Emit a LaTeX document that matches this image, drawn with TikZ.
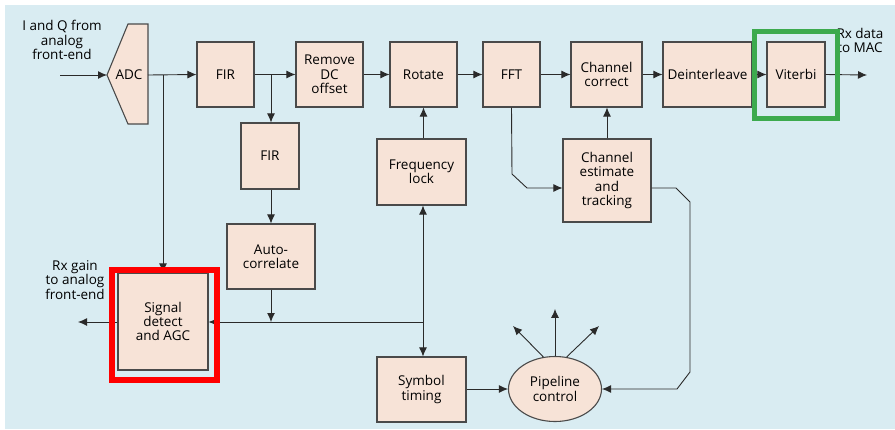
\documentclass[tikz,border=0pt]{standalone}
\usepackage{fontspec}
\setmainfont{Open Sans}
\usetikzlibrary{shapes.geometric,arrows.meta,calc}
\definecolor{bgblue}{HTML}{D9ECF2}
\definecolor{boxfill}{HTML}{F7E3D7}
\definecolor{boxline}{HTML}{4A4A4A}
\definecolor{wire}{HTML}{2A2A2A}
\definecolor{frgreen}{HTML}{3DAA4E}
\definecolor{frred}{HTML}{FF0000}
\tikzset{
  blk/.style={draw=boxline, line width=1.1pt, fill=boxfill, align=center, inner sep=0pt,
    font=\fontsize{13.5}{14.3}\selectfont},
  lbl/.style={align=center, inner sep=0pt, font=\fontsize{13.5}{14.3}\selectfont},
  wr/.style={draw=wire, line width=0.9pt},
  ar/.style={wr, -{Latex[length=9pt,width=8pt]}},
  arb/.style={wr, {Latex[length=9pt,width=8pt]}-{Latex[length=9pt,width=8pt]}},
}
\begin{document}
\begin{tikzpicture}[x=1pt,y=-1pt]
\useasboundingbox (0,0) rectangle (895,429);
\fill[white] (0,0) rectangle (895,429);
\fill[bgblue] (5,5) rectangle (895,429);

% ADC
\draw[draw=boxline, line width=1.1pt, fill=boxfill] (128,24) -- (148,24) -- (148,124) -- (128,124) -- (107,75) -- cycle;
\node[lbl] (adc) at (129,75) {ADC};
\coordinate (adcin) at (107,75);
\coordinate (adcout) at (148,75);

% top row
\node[blk, minimum width=57pt, minimum height=65pt] (fir1) at (225.5,74.5) {FIR};
\node[blk, minimum width=67pt, minimum height=65pt] (rdc) at (329.5,74.5) {Remove\\DC\\offset};
\node[blk, minimum width=67pt, minimum height=65pt] (rot) at (423.5,74.5) {Rotate};
\node[blk, minimum width=57pt, minimum height=65pt] (fft) at (511.5,74.5) {FFT};
\node[blk, minimum width=71pt, minimum height=65pt] (cc) at (606.5,74.5) {Channel\\correct};
\node[blk, minimum width=89pt, minimum height=65pt] (dei) at (707.5,74.5) {Deinterleave};
\node[blk, minimum width=58pt, minimum height=65pt] (vit) at (796,74.5) {Viterbi};

% second level
\node[blk, minimum width=58pt, minimum height=66pt] (fir2) at (270,156) {FIR};
\node[blk, minimum width=89pt, minimum height=66pt] (fl) at (421.5,172) {Frequency\\lock};
\node[blk, minimum width=88pt, minimum height=83pt] (ce) at (607,180.5) {Channel\\estimate\\and\\tracking};
\node[blk, minimum width=88pt, minimum height=65pt] (ac) at (271,256.5) {Auto-\\correlate};
\node[blk, minimum width=90pt, minimum height=97pt] (sd) at (163,321.5) {Signal\\detect\\and AGC};
\node[blk, minimum width=89pt, minimum height=65pt] (st) at (421.5,389.5) {Symbol\\timing};
\node[blk, ellipse, minimum width=93pt, minimum height=65pt] (pc) at (555,389) {Pipeline\\control};

% labels
\node[lbl] (inlbl) at (62,40) {I and Q from\\analog\\front-end};
\node[lbl] (rxlbl) at (75,280) {Rx gain\\to analog\\front-end};
\node[lbl] (maclbl) at (860,40.5) {Rx data\\to MAC};

% coordinates
\coordinate (inst) at (60,75);
\coordinate (br1) at (163,75);
\coordinate (br2) at (271,75);
\coordinate (j1) at (271,322);
\coordinate (j2) at (423,322);
\coordinate (rxout) at (78,322);
\coordinate (macout) at (867,75);
\coordinate (ffta) at (512,174);
\coordinate (fftb) at (527,188);
\coordinate (cea) at (676,188);
\coordinate (ceb) at (690,202);
\coordinate (cec) at (690,372);
\coordinate (ced) at (677,389);

% connectors
\draw[ar] (inst) -- (adcin);
\draw[ar] (adcout) -- (fir1.west);
\draw[ar] (fir1.east) -- (rdc.west);
\draw[ar] (rdc.east) -- (rot.west);
\draw[ar] (rot.east) -- (fft.west);
\draw[ar] (fft.east) -- (cc.west);
\draw[ar] (cc.east) -- (dei.west);
\draw[ar] (dei.east) -- (vit.west);
\draw[ar] (vit.east) -- (macout);
\draw[ar] (br2) -- (br2 |- fir2.north);
\draw[ar] (fir2.south -| br2) -- (br2 |- ac.north);
\draw[ar] (br1) -- (sd.north);
\draw[ar] (fl.north -| rot) -- (rot.south);
\draw[ar] (ce.north) -- (ce.north |- cc.south);
\draw[ar] (fft.south) -- (ffta) -- (fftb) -- (ce.west |- fftb);
\draw[arb] (fl.south -| j2) -- (st.north -| j2);
\draw[wr] (j2) -- (j1);
\draw[ar] (j1) -- (sd.east |- j1);
\draw[ar] (ac.south -| j1) -- (j1);
\draw[ar] (sd.west |- rxout) -- (rxout);
\draw[ar] (st.east |- pc) -- (pc.west);
\draw[ar] (ce.east |- cea) -- (cea) -- (ceb) -- (cec) -- (ced) -- (pc.east);
\draw[ar] (pc.north) -- ++(0,-47);
\draw[ar] (pc.110) -- (513,326);
\draw[ar] (pc.70) -- (599,326);

% highlight frames
\draw[frgreen, line width=5pt] (754.5,31.5) rectangle (837.5,118.5);
\draw[frred, line width=6pt] (111.5,269.5) rectangle (216.5,379.5);
\end{tikzpicture}
\end{document}
